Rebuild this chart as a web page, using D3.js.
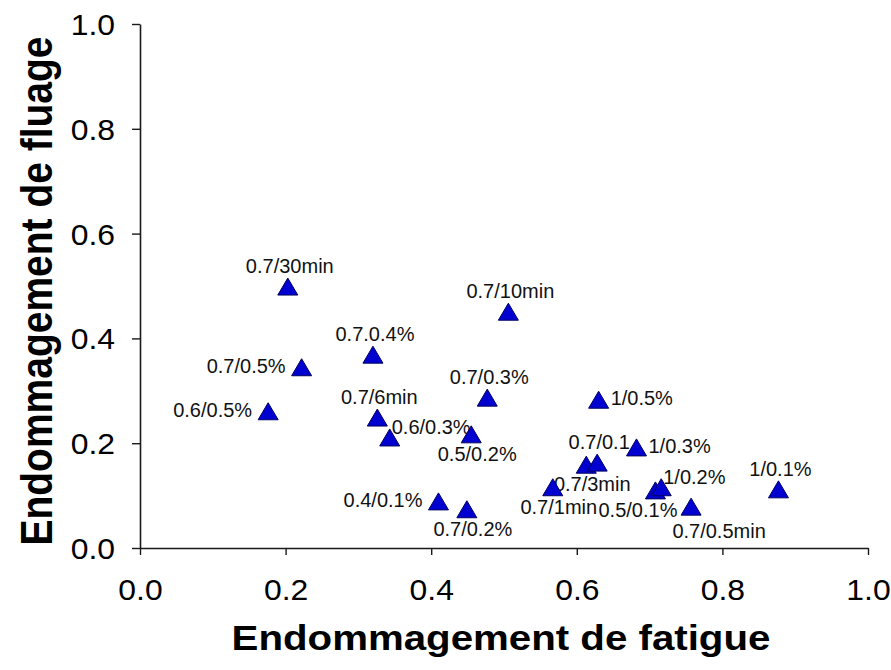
<!DOCTYPE html>
<html>
<head>
<meta charset="utf-8">
<script src="https://cdn.jsdelivr.net/npm/d3@7"></script>
<style>
  html, body { margin: 0; padding: 0; background: #ffffff; }
  svg { display: block; }
  text { font-family: "Liberation Sans", Arial, sans-serif; }
</style>
</head>
<body>
<svg id="chart" width="891" height="670"></svg>
<script>
// ---- data ----
const pointLabels = ["0.7/30min","0.7/0.5%","0.6/0.5%","0.7.0.4%","0.7/6min","0.6/0.3%","0.7/10min","0.7/0.3%","1/0.5%","0.5/0.2%","0.7/3min","0.7/0.1","1/0.3%","0.7/1min","0.5/0.1%","1/0.2%","0.7/0.5min","1/0.1%","0.4/0.1%","0.7/0.2%"];
const fatigueDamage = [0.203,0.222,0.176,0.320,0.326,0.343,0.506,0.477,0.630,0.455,0.613,0.628,0.682,0.567,0.708,0.716,0.757,0.877,0.410,0.449];
const creepDamage   = [0.498,0.344,0.260,0.368,0.248,0.210,0.450,0.286,0.282,0.216,0.158,0.162,0.191,0.115,0.109,0.115,0.078,0.111,0.088,0.073];
const labelPlacement = ["above","left","left","above","above","upper-right","above","above","right","below","below","above","right","below","below-left","upper-right","below-right","above","left","below"];
const xTicks = [0, 0.2, 0.4, 0.6, 0.8, 1.0];
const yTicks = [0, 0.2, 0.4, 0.6, 0.8, 1.0];
const xTitle = "Endommagement de fatigue";
const yTitle = "Endommagement de fluage";

(function () {
  const svg = d3.select("#chart");
  const mLeft = 140, mRight = 868, mTop = 24, mBottom = 548;

  const x = d3.scaleLinear().domain([0, 1]).range([mLeft, mRight]);
  const y = d3.scaleLinear().domain([0, 1]).range([mBottom, mTop]);
  const fmt = d3.format(".1f");

  const xAxis = svg.append("g")
    .attr("transform", `translate(0,${mBottom})`)
    .call(d3.axisBottom(x).tickValues(xTicks).tickFormat(fmt).tickSize(7).tickSizeOuter(0).tickPadding(0));
  const yAxis = svg.append("g")
    .attr("transform", `translate(${mLeft},0)`)
    .call(d3.axisLeft(y).tickValues(yTicks).tickFormat(fmt).tickSize(8).tickSizeOuter(0).tickPadding(0));

  [xAxis, yAxis].forEach(g => {
    g.select(".domain").attr("stroke", "#1a1a1a").attr("stroke-width", 1.6);
    g.selectAll(".tick line").attr("stroke", "#1a1a1a").attr("stroke-width", 1.4);
  });

  xAxis.selectAll(".tick text")
    .attr("fill", "#000")
    .style("font-size", "29px")
    .attr("dy", null)
    .attr("y", 0)
    .attr("transform", "translate(0,52) scale(1.1,1)");

  yAxis.selectAll(".tick text")
    .attr("fill", "#000")
    .style("font-size", "29px")
    .attr("dy", null)
    .attr("x", 0)
    .attr("transform", "translate(-25,10.5) scale(1.1,1)");

  svg.append("text")
    .attr("transform", `translate(${(230 + 772) / 2},650) scale(1.15,1)`)
    .attr("text-anchor", "middle")
    .style("font-size", "35px")
    .style("font-weight", "bold")
    .attr("fill", "#000")
    .text(xTitle);

  svg.append("text")
    .attr("transform", `translate(52,291) scale(1.15,1) rotate(-90)`)
    .attr("text-anchor", "middle")
    .style("font-size", "39px")
    .style("font-weight", "bold")
    .attr("fill", "#000")
    .text(yTitle);

  const data = pointLabels.map((lab, i) => ({
    label: lab, fx: fatigueDamage[i], fy: creepDamage[i], place: labelPlacement[i]
  }));

  const placeOffsets = {
    "above":       {dx: 2,   dy: -14, anchor: "middle"},
    "below":       {dx: 6,   dy: 26,  anchor: "middle"},
    "left":        {dx: -16, dy: 5,   anchor: "end"},
    "right":       {dx: 12,  dy: 5,   anchor: "start"},
    "upper-right": {dx: 2,   dy: -4,  anchor: "start"},
    "below-left":  {dx: 22,  dy: 26,  anchor: "end"},
    "below-right": {dx: 28,  dy: 31,  anchor: "middle"}
  };

  svg.append("g").selectAll("text")
    .data(data).join("text")
    .attr("x", d => x(d.fx) + placeOffsets[d.place].dx)
    .attr("y", d => y(d.fy) + placeOffsets[d.place].dy)
    .attr("text-anchor", d => placeOffsets[d.place].anchor)
    .style("font-size", "20px")
    .attr("fill", "#111")
    .text(d => d.label);

  const tri = "M0,-9L10,8L-10,8Z";
  svg.append("g").selectAll("path")
    .data(data).join("path")
    .attr("d", tri)
    .attr("transform", d => `translate(${x(d.fx)},${y(d.fy)})`)
    .attr("fill", "#0000d0")
    .attr("stroke", "#000060")
    .attr("stroke-width", 1);
})();
</script>
</body>
</html>
